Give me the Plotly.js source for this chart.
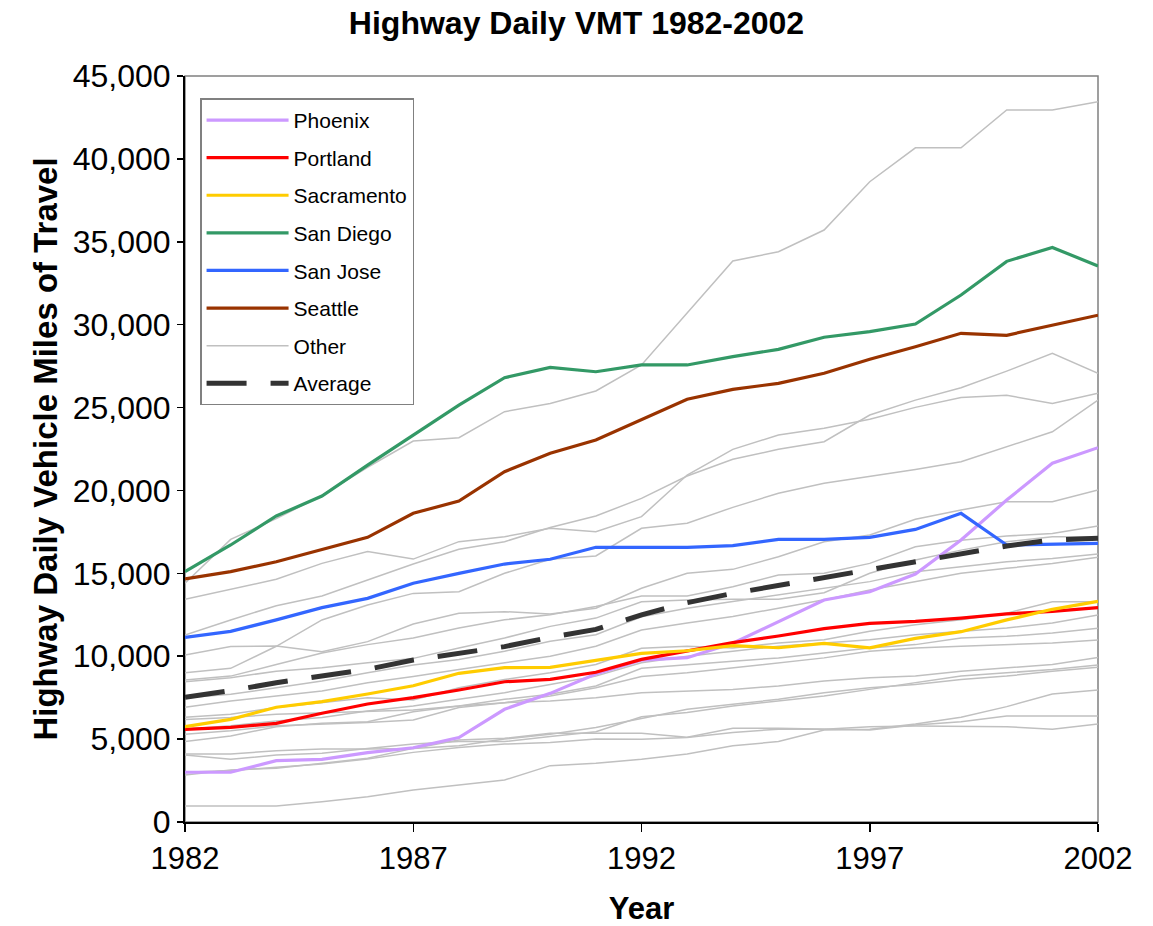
<!DOCTYPE html>
<html>
<head>
<meta charset="utf-8">
<script src="https://cdn.plot.ly/plotly-3.0.1.min.js"></script>
<style>html,body{margin:0;padding:0;background:#fff;}#chart{width:1153px;height:926px;}</style>
</head>
<body>
<div id="chart"></div>
<script>
const years = [1982,1983,1984,1985,1986,1987,1988,1989,1990,1991,1992,1993,1994,1995,1996,1997,1998,1999,2000,2001,2002];
const xTickVals = [1982,1987,1992,1997,2002];
const xTickText = ["1982","1987","1992","1997","2002"];

const phoenix    = [3000,3000,3700,3780,4180,4480,5090,6800,7760,8930,9770,9910,10780,12080,13390,13890,14960,17010,19420,21640,22580];
const portland   = [5590,5710,5950,6560,7120,7500,7960,8460,8600,9030,9810,10330,10820,11220,11660,11980,12100,12300,12550,12710,12930];
const sacramento = [5750,6190,6920,7260,7720,8220,8970,9310,9330,9730,10170,10330,10640,10510,10780,10510,11080,11480,12190,12830,13310];
const sanDiego   = [15100,16710,18460,19660,21530,23340,25150,26800,27420,27160,27570,27570,28070,28510,29240,29580,30040,31790,33820,34660,33540];
const sanJose    = [11140,11500,12190,12930,13490,14400,15000,15560,15850,16570,16570,16570,16670,17050,17050,17170,17650,18620,16710,16770,16810];
const seattle    = [14660,15100,15700,16450,17170,18620,19360,21130,22240,23040,24250,25500,26100,26460,27070,27910,28670,29480,29360,29960,30570];
const average    = [7520,7920,8400,8770,9210,9770,10170,10580,11140,11620,12500,13230,13790,14260,14700,15200,15640,16110,16650,17010,17110];

const otherSeries = [
  [14400,17050,18300,19700,21400,22980,23180,24750,25250,26000,27570,30700,33840,34400,35710,38620,40670,40670,42950,42950,43450],
  [13430,14040,14640,15600,16310,15860,16910,17210,17720,17510,18420,20930,22480,23340,23750,24290,25010,25600,25740,25250,25860],
  [11280,12190,13050,13630,14600,15560,16450,16910,17760,18460,19520,20870,21880,22480,22940,24550,25450,26200,27200,28270,27070],
  [9000,9270,10600,12190,13090,13790,13890,15000,15850,16050,17720,18020,18980,19830,20430,20830,21270,21730,22640,23540,25450],
  [10070,10580,10620,10270,10880,11940,12590,12690,12550,12900,14100,15000,15240,16000,16910,17310,18260,18820,19320,19320,20030],
  [8570,8800,9500,10200,10700,11100,11700,12200,12500,13000,13630,13630,14190,14900,15000,15600,16600,17000,17250,17410,17860],
  [8460,8700,9100,9300,9600,9870,10500,11100,11800,12300,13290,13390,13430,13430,13830,15000,15800,16400,16900,17210,17210],
  [7500,7700,8100,8500,9000,9470,9800,10300,10900,11300,12380,12900,13300,13700,14100,14500,15100,15400,15700,15900,16170],
  [6920,7300,7600,7900,8400,8770,9200,9600,10000,10600,11580,12000,12400,12900,13400,14000,14500,15000,15300,15600,15970],
  [6320,6500,6900,7200,7500,7360,8100,8600,9000,9500,10480,10600,10500,10800,11000,11500,11900,12200,12600,13290,13290],
  [5600,5800,6100,6300,6700,7000,7400,7800,8300,8800,9600,10000,10300,10600,10800,11000,11300,11500,11700,12000,12490],
  [6190,6300,6500,6600,6700,6760,7000,7400,7700,8200,9270,9500,9700,9900,10200,10500,10700,11100,11200,11400,11680],
  [5300,5500,5800,5900,6000,6150,6900,7200,7600,8100,8770,9000,9300,9600,9900,10300,10500,10600,10700,10800,10980],
  [4850,5190,5750,5950,6050,6650,7000,7200,7300,7500,7800,7900,8000,8200,8500,8700,8800,9100,9300,9500,9930],
  [4100,4100,4300,4400,4400,4440,4600,5000,5300,5700,6250,6800,7100,7400,7800,8100,8300,8600,8800,9100,9330],
  [4040,3780,4040,4140,4440,4700,4850,4850,5150,5450,6350,6600,7000,7300,7600,8000,8400,8800,9000,9200,9470],
  [2840,3140,3240,3540,3840,4440,4950,5050,5350,5350,5350,5110,5650,5650,5590,5550,5850,6050,6390,6390,6390],
  [965,965,965,1225,1530,1930,2230,2530,3400,3540,3780,4100,4600,4850,5550,5590,5910,6320,6960,7720,7960],
  [3000,3100,3300,3500,3800,4200,4500,4700,4800,5000,4990,5100,5400,5600,5600,5750,5790,5790,5750,5590,5910]
];

const cities = [
  {name: "Phoenix",    y: phoenix,    color: "#CC99FF"},
  {name: "Portland",   y: portland,   color: "#FF0000"},
  {name: "Sacramento", y: sacramento, color: "#FFCC00"},
  {name: "San Diego",  y: sanDiego,   color: "#339966"},
  {name: "San Jose",   y: sanJose,    color: "#3366FF"},
  {name: "Seattle",    y: seattle,    color: "#993300"}
];

const traces = [];
otherSeries.forEach((ys, i) => {
  traces.push({
    x: years, y: ys, type: "scatter", mode: "lines",
    name: "Other", legendgroup: "other", showlegend: i === 0, legendrank: 7,
    line: {color: "#C0C0C0", width: 1.5}, hoverinfo: "skip"
  });
});
cities.forEach((c, i) => {
  traces.push({
    x: years, y: c.y, type: "scatter", mode: "lines",
    name: c.name, legendgroup: "g" + i, legendrank: i + 1,
    line: {color: c.color, width: 3.2}
  });
});
traces.push({
  x: years, y: average, type: "scatter", mode: "lines",
  name: "Average", legendgroup: "avg", legendrank: 8,
  line: {color: "#333333", width: 5, dash: "40px,24px"}
});

const font = "Liberation Sans, Arial, sans-serif";
const layout = {
  width: 1153, height: 926,
  margin: {l: 185, r: 55, t: 76, b: 104},
  paper_bgcolor: "#fff", plot_bgcolor: "#fff",
  font: {family: font, color: "#000"},
  title: {text: "<b>Highway Daily VMT 1982-2002</b>", font: {size: 32, family: font},
          x: 0.5, xref: "container", y: 0.975, yref: "container", yanchor: "middle"},
  showlegend: true,
  legend: {x: 0.0165, y: 0.97, xanchor: "left", yanchor: "top",
           bgcolor: "#fff", bordercolor: "#808080", borderwidth: 1.5,
           font: {size: 21, family: font}, tracegroupgap: 7.3, itemwidth: 82},
  xaxis: {range: [1982, 2002], tickvals: xTickVals, ticktext: xTickText,
          ticks: "outside", ticklen: 8, tickwidth: 1.5, tickcolor: "#000",
          showline: true, linecolor: "#000", linewidth: 2, showgrid: false, zeroline: false,
          tickfont: {size: 31, family: font},
          title: {text: "<b>Year</b>", font: {size: 31, family: font}, standoff: 22}},
  yaxis: {range: [0, 45000], dtick: 5000, tick0: 0, tickformat: ",d",
          ticks: "outside", ticklen: 6, tickwidth: 1.5, tickcolor: "#000",
          showline: true, linecolor: "#000", linewidth: 2, showgrid: false, zeroline: false,
          tickfont: {size: 32, family: font},
          title: {text: "<b>Highway Daily Vehicle Miles of Travel</b>", font: {size: 33, family: font}, standoff: 5}},
  shapes: [{type: "rect", xref: "paper", yref: "paper", x0: 0, x1: 1, y0: 0, y1: 1,
            line: {color: "#808080", width: 1.5}, layer: "below"}]
};

Plotly.newPlot("chart", traces, layout, {displayModeBar: false, staticPlot: true});
</script>
</body>
</html>
